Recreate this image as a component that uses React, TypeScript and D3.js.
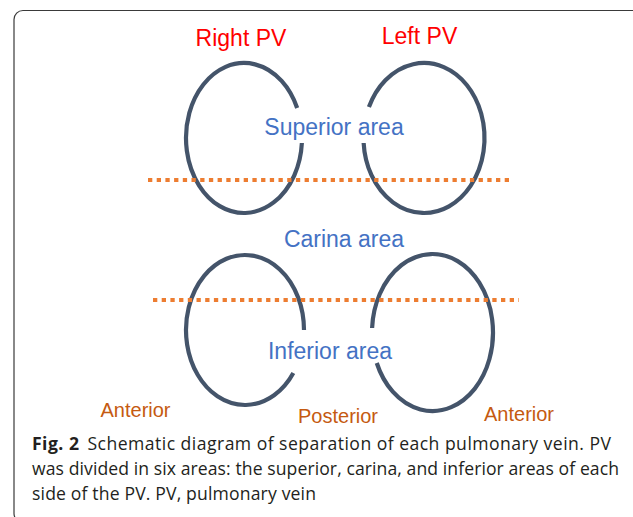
import React from "react";
import * as d3 from "d3";

// ---- content ----
const pvLabels = ["Right PV", "Left PV"];
const pvLabelX = [241, 419.5];
const pvLabelY = [46, 44];

const areaLabels = ["Superior area", "Carina area", "Inferior area"];
const areaLabelX = [334, 344, 330];
const areaLabelY = [135, 247, 359];

const sideLabels = ["Anterior", "Posterior", "Anterior"];
const sideLabelX = [135.5, 338, 519];
const sideLabelY = [417, 423, 421];

// ellipses
const veinCx = [244, 424, 245, 432.5];
const veinCy = [138, 138, 330, 332.5];
const veinRx = [58, 60.5, 59, 60.5];
const veinRy = [75, 75, 75, 78.5];
const gapTop = [108, 107, 330, 328];
const gapBottom = [143, 143, 373, 363];
const gapSide = ["right", "left", "right", "left"];

// dotted dividers
const dividerY = [180, 300];
const dividerX0 = [148, 153];
const dividerX1 = [513, 519];

const captionBold = "Fig. 2";
const captionLines = [
  "Schematic diagram of separation of each pulmonary vein. PV",
  "was divided in six areas: the superior, carina, and inferior areas of each",
  "side of the PV. PV, pulmonary vein",
];
const captionY = [450, 475, 500];
const captionWidth = [579, 587, 284];

const W = 633;
const H = 517;

function ellipseArc(i: number): string {
  const cx = veinCx[i], cy = veinCy[i], rx = veinRx[i], ry = veinRy[i];
  const s0 = Math.asin(Math.max(-1, Math.min(1, (gapTop[i] - cy) / ry)));
  const s1 = Math.asin(Math.max(-1, Math.min(1, (gapBottom[i] - cy) / ry)));
  let gStart: number, gEnd: number;
  if (gapSide[i] === "right") {
    gStart = s0;
    gEnd = s1;
  } else {
    gStart = Math.PI - s1;
    gEnd = Math.PI - s0;
  }
  const a0 = gEnd;
  const a1 = gStart + 2 * Math.PI;
  const p = d3.path();
  p.moveTo(cx + rx * Math.cos(a0), cy + ry * Math.sin(a0));
  const x1 = cx + rx * Math.cos(a1);
  const y1 = cy + ry * Math.sin(a1);
  return p.toString() + ` A ${rx} ${ry} 0 1 1 ${x1} ${y1}`;
}

export default function App() {
  const labelFont = "'Liberation Sans', Arial, sans-serif";
  return (
    <svg
      width={W}
      height={H}
      style={{ position: "absolute", left: 0, top: 0, background: "#fff" }}
    >
      <rect x={14} y={10.5} width={660} height={512} rx={9} ry={9} fill="#fff" stroke="#3a3a3a" strokeWidth={1.2} />

      {veinCx.map((_, i) => (
        <path key={"v" + i} d={ellipseArc(i)} fill="none" stroke="#44546a" strokeWidth={4.2} />
      ))}

      {dividerY.map((y, i) => (
        <line
          key={"d" + i}
          x1={dividerX0[i]}
          x2={dividerX1[i]}
          y1={y}
          y2={y}
          stroke="#ed7d31"
          strokeWidth={4}
          strokeDasharray="4.3 4.4"
        />
      ))}

      {pvLabels.map((t, i) => (
        <text key={"p" + i} x={pvLabelX[i]} y={pvLabelY[i]} textAnchor="middle" fontFamily={labelFont} fontSize={23} fill="#ff0000">
          {t}
        </text>
      ))}

      {areaLabels.map((t, i) => (
        <text key={"a" + i} x={areaLabelX[i]} y={areaLabelY[i]} textAnchor="middle" fontFamily={labelFont} fontSize={23} fill="#4472c4">
          {t}
        </text>
      ))}

      {sideLabels.map((t, i) => (
        <text key={"s" + i} x={sideLabelX[i]} y={sideLabelY[i]} textAnchor="middle" fontFamily={labelFont} fontSize={20} fill="#c55a11">
          {t}
        </text>
      ))}

      {captionLines.map((t, i) => (
        <text
          key={"c" + i}
          x={32}
          y={captionY[i]}
          fontFamily="'Open Sans', sans-serif"
          fontSize={17.6}
          fill="#231f20"
          textLength={captionWidth[i]}
          lengthAdjust="spacing"
        >
          {i === 0 ? (
            <>
              <tspan fontWeight="bold">{captionBold}</tspan>
              <tspan dx={8}>{t}</tspan>
            </>
          ) : (
            t
          )}
        </text>
      ))}
    </svg>
  );
}
